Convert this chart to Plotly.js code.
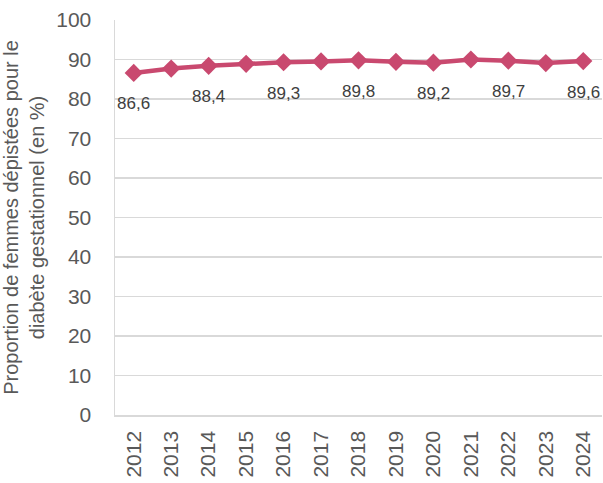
<!DOCTYPE html>
<html>
<head>
<meta charset="utf-8">
<script src="https://cdn.plot.ly/plotly-3.0.1.min.js"></script>
<style>html,body{margin:0;padding:0;background:#fff;}#chart{width:603px;height:483px;}</style>
</head>
<body>
<div id="chart"></div>
<script>
const years = [2012, 2013, 2014, 2015, 2016, 2017, 2018, 2019, 2020, 2021, 2022, 2023, 2024];
const values = [86.6, 87.7, 88.4, 88.9, 89.3, 89.5, 89.8, 89.4, 89.2, 90.0, 89.7, 89.1, 89.6];
const labelYears = [2012, 2014, 2016, 2018, 2020, 2022, 2024];
const labelValues = [86.6, 88.4, 89.3, 89.8, 89.2, 89.7, 89.6];
const yTitle = 'Proportion de femmes dépistées pour le<br>diabète gestationnel (en %)';

const color = '#C9496F';
const annotations = labelYears.map((yr, i) => ({
  x: yr, y: labelValues[i], xref: 'x', yref: 'y',
  text: labelValues[i].toFixed(1).replace('.', ','),
  showarrow: false, yanchor: 'middle', yshift: -31,
  font: {family: 'Liberation Sans, Arial, sans-serif', size: 17, color: '#404040'}
}));

Plotly.newPlot('chart', [{
  x: years, y: values, type: 'scatter', mode: 'lines+markers',
  line: {color: color, width: 4.5},
  marker: {symbol: 'diamond', size: 14, color: color},
  hoverinfo: 'skip'
}], {
  width: 603, height: 483,
  margin: {l: 115, r: 1, t: 20, b: 68},
  paper_bgcolor: '#fff', plot_bgcolor: '#fff',
  showlegend: false,
  font: {family: 'Liberation Sans, Arial, sans-serif', color: '#595959'},
  xaxis: {
    type: 'linear', range: [2011.5, 2024.5], tick0: 2012, dtick: 1,
    tickangle: -90,
    tickfont: {size: 21, color: '#595959'},
    showgrid: false, showline: true, linecolor: '#D9D9D9', linewidth: 1.5,
    zeroline: false, ticks: '', ticklabelstandoff: 6, fixedrange: true
  },
  yaxis: {
    range: [0, 100], tick0: 0, dtick: 10,
    tickfont: {size: 21, color: '#595959'},
    showgrid: true, gridcolor: '#D9D9D9', gridwidth: 1.5,
    showline: true, linecolor: '#D9D9D9', linewidth: 1.5,
    zeroline: false, ticks: '', ticklabelstandoff: 18,
    title: {text: yTitle, font: {size: 20, color: '#595959'}, standoff: 10},
    fixedrange: true
  },
  annotations: annotations
}, {displayModeBar: false, staticPlot: true});
</script>
</body>
</html>
